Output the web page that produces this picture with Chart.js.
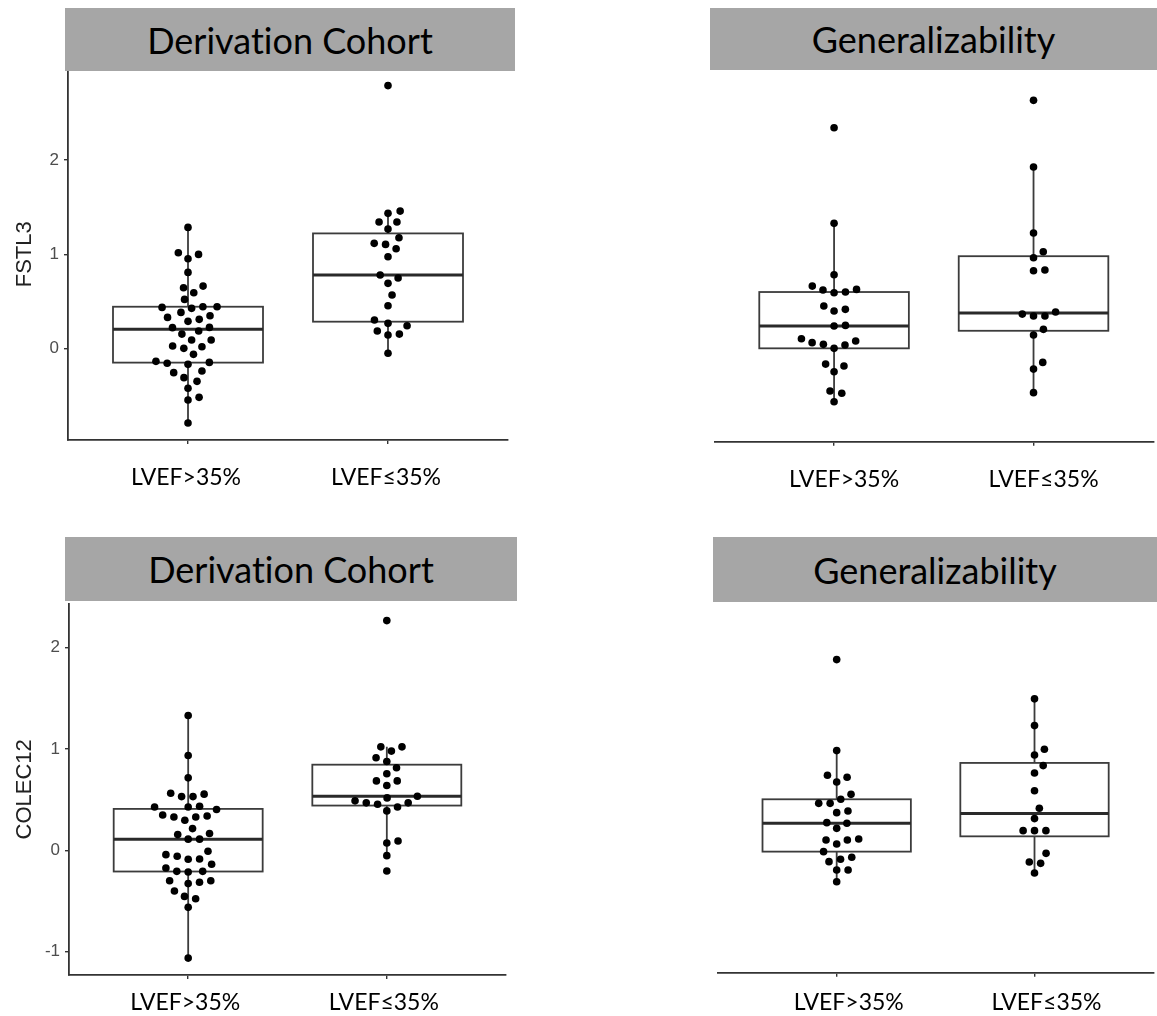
<!DOCTYPE html>
<html>
<head>
<meta charset="utf-8">
<title>FSTL3 and COLEC12 by LVEF group</title>
<script src="https://cdn.jsdelivr.net/npm/chart.js@4.4.1/dist/chart.umd.min.js"></script>
<style>
  html, body { margin: 0; padding: 0; background: #fff; }
  body { position: relative; width: 1157px; height: 1016px; overflow: hidden; }
  .panel { position: absolute; }
  .banner {
    position: absolute; z-index: 2; background: #a6a6a6; color: #000;
    font-family: Lato, "Open Sans", sans-serif; font-size: 36px;
    font-variant-ligatures: none; font-feature-settings: "liga" 0;
    display: flex; align-items: center; justify-content: center; white-space: nowrap;
  }
</style>
</head>
<body>
<div class="banner" style="left:65px;top:8px;width:450px;height:63px">Derivation Cohort</div>
<div class="banner" style="left:710px;top:8px;width:447px;height:62px">Generalizability</div>
<div class="banner" style="left:65px;top:537px;width:452px;height:64px">Derivation Cohort</div>
<div class="banner" style="left:713px;top:537px;width:444px;height:65px">Generalizability</div>

<script>
// Groups on the x axis
const groups = ['LVEF>35%', 'LVEF≤35%'];

// Y tick values
const fstl3Ticks = [0, 1, 2];
const colec12Ticks = [-1, 0, 1, 2];

// FSTL3 – derivation cohort
const fstl3DerivAbove = [1.286, 1.018, 1.0, 0.954, 0.809, 0.647, 0.664, 0.594, 0.523, 0.445,
  0.428, 0.438, 0.445, 0.385, 0.35, 0.332, 0.311, 0.29, 0.226, 0.187,
  0.223, 0.155, 0.092, 0.092, 0.028, 0.021, 0.004, -0.06, -0.134, -0.145,
  -0.166, -0.155, -0.254, -0.237, -0.307, -0.346, -0.42, -0.544, -0.516, -0.788];
const fstl3DerivBelow = [2.79, 1.459, 1.435, 1.343, 1.343, 1.268, 1.177, 1.117, 1.106, 1.06,
  0.975, 0.781, 0.749, 0.693, 0.569, 0.456, 0.304, 0.269, 0.244, 0.187,
  0.145, 0.155, -0.049];

// FSTL3 – generalizability cohort
const fstl3GenAbove = [2.343, 1.329, 0.784, 0.664, 0.622, 0.594, 0.601, 0.629, 0.452, 0.399,
  0.417, 0.240, 0.247, 0.106, 0.064, 0.046, 0.004, 0.039, 0.081, -0.163,
  -0.184, -0.244, -0.449, -0.473, -0.562];
const fstl3GenBelow = [2.633, 1.926, 1.226, 1.028, 0.965, 0.827, 0.834, 0.367, 0.346, 0.346,
  0.389, 0.205, 0.145, -0.145, -0.216, -0.466];

// COLEC12 – derivation cohort
const colec12DerivAbove = [1.33, 0.936, 0.715, 0.554, 0.530, 0.530, 0.563, 0.435, 0.428, 0.402,
  0.428, 0.349, 0.329, 0.329, 0.297, 0.339, 0.214, 0.155, 0.11, 0.11,
  0.165, -0.010, -0.043, -0.086, -0.089, -0.059, -0.138, -0.175, -0.208, -0.214,
  -0.208, -0.300, -0.316, -0.329, -0.300, -0.402, -0.455, -0.478, -0.563, -1.064];
const colec12DerivBelow = [2.267, 1.021, 1.021, 0.979, 0.913, 0.876, 0.814, 0.755, 0.685, 0.685,
  0.639, 0.517, 0.534, 0.488, 0.468, 0.455, 0.468, 0.428, 0.389, 0.072,
  0.092, -0.053, -0.204];

// COLEC12 – generalizability cohort
const colec12GenAbove = [1.881, 0.982, 0.738, 0.718, 0.672, 0.550, 0.461, 0.461, 0.501, 0.369,
  0.386, 0.264, 0.214, 0.27, 0.109, 0.099, 0.059, 0.099, -0.016, -0.092,
  -0.072, -0.115, -0.198, -0.198, -0.313];
const colec12GenBelow = [1.493, 1.229, 0.995, 0.939, 0.834, 0.761, 0.586, 0.412, 0.310, 0.191,
  0.191, 0.191, -0.033, -0.119, -0.132, -0.227];

// Panel layout (page pixels) and axis settings
const panels = [
  { left: 0,   top: 0,   width: 540, height: 520, area: { left: 68,  right: 508,    top: 68.7, bottom: 439.9 },
    yMin: -0.967, yMax: 2.969, yTicks: fstl3Ticks, yTitle: 'FSTL3', sets: [fstl3DerivAbove, fstl3DerivBelow],
    labelShift: -2, labelPad: 20 },
  { left: 700, top: 0,   width: 457, height: 520, area: { left: 14.4, right: 456.6, top: 70,  bottom: 441.7 },
    yMin: -0.986, yMax: 2.955, yTicks: null, yTitle: null, sets: [fstl3GenAbove, fstl3GenBelow],
    labelShift: 10, labelPad: 20 },
  { left: 0,   top: 530, width: 540, height: 486, area: { left: 69,  right: 506,    top: 73.7, bottom: 445 },
    yMin: -1.231, yMax: 2.434, yTicks: colec12Ticks, yTitle: 'COLEC12', sets: [colec12DerivAbove, colec12DerivBelow],
    labelShift: -3, labelPad: 10 },
  { left: 700, top: 530, width: 457, height: 486, area: { left: 18,  right: 453.4,  top: 73,   bottom: 442.7 },
    yMin: -1.212, yMax: 2.44, yTicks: null, yTitle: null, sets: [colec12GenAbove, colec12GenBelow],
    labelShift: 12, labelPad: 12 }
];

const INK = '#333333';
const BOX_INK = '#3c3c3c';
const BOX_WIDTH = 0.75;     // in category units
const SWARM_SPACING = 11.4; // px between dot centres in the swarm
const DOT_RADIUS = 3.8;

// type-7 quantile of a sorted array
function quantile(sorted, p) {
  const h = (sorted.length - 1) * p;
  const lo = Math.floor(h);
  const hi = Math.min(lo + 1, sorted.length - 1);
  return sorted[lo] + (h - lo) * (sorted[hi] - sorted[lo]);
}

function boxStats(values) {
  const s = values.slice().sort((a, b) => a - b);
  const q1 = quantile(s, 0.25), med = quantile(s, 0.5), q3 = quantile(s, 0.75);
  const iqr = q3 - q1;
  const inside = s.filter(v => v >= q1 - 1.5 * iqr && v <= q3 + 1.5 * iqr);
  return { q1, med, q3, lo: inside[0], hi: inside[inside.length - 1] };
}

// Swarm layout: points placed in ascending order, each at the smallest
// sideways offset that keeps it clear of the points already placed.
function beeswarm(values, toPx, d) {
  const order = values.map((_, i) => i).sort((a, b) => (values[a] - values[b]) || (a - b));
  const placed = [];
  const offsets = new Array(values.length).fill(0);
  for (const i of order) {
    const y = toPx(values[i]);
    const near = placed.filter(p => Math.abs(p.y - y) < d);
    let best = 0;
    if (near.length) {
      const cands = [0];
      near.forEach(p => cands.push(p.x + Math.sqrt(d * d - (p.y - y) ** 2)));
      near.forEach(p => cands.push(p.x - Math.sqrt(d * d - (p.y - y) ** 2)));
      let bestAbs = Infinity;
      for (const c of cands) {
        const clash = near.some(p => (p.x - c) ** 2 + (p.y - y) ** 2 < 0.999 * d * d);
        if (!clash && Math.abs(c) < bestAbs) { bestAbs = Math.abs(c); best = c; }
      }
    }
    placed.push({ x: best, y });
    offsets[i] = best;
  }
  return offsets;
}

// Box, median and whiskers under each group's dots
const boxPlot = {
  id: 'boxPlot',
  beforeDatasetsDraw(chart) {
    const { ctx } = chart;
    const xs = chart.scales.x, ys = chart.scales.y;
    chart.data.datasets.forEach((ds, g) => {
      const st = boxStats(ds.data.map(p => p.y));
      const cx = xs.getPixelForValue(g + 1);
      const x0 = xs.getPixelForValue(g + 1 - BOX_WIDTH / 2);
      const x1 = xs.getPixelForValue(g + 1 + BOX_WIDTH / 2);
      const yq1 = ys.getPixelForValue(st.q1), yq3 = ys.getPixelForValue(st.q3);
      const ymed = ys.getPixelForValue(st.med);
      ctx.save();
      ctx.strokeStyle = BOX_INK;
      ctx.lineWidth = 1.8;
      ctx.beginPath();
      ctx.moveTo(cx, yq3); ctx.lineTo(cx, ys.getPixelForValue(st.hi));
      ctx.moveTo(cx, yq1); ctx.lineTo(cx, ys.getPixelForValue(st.lo));
      ctx.stroke();
      ctx.fillStyle = '#ffffff';
      ctx.fillRect(x0, yq3, x1 - x0, yq1 - yq3);
      ctx.strokeRect(x0, yq3, x1 - x0, yq1 - yq3);
      ctx.strokeStyle = '#2a2a2a';
      ctx.lineWidth = 3;
      ctx.beginPath();
      ctx.moveTo(x0, ymed); ctx.lineTo(x1, ymed);
      ctx.stroke();
      ctx.restore();
    });
  }
};

panels.forEach(p => {
  const wrap = document.createElement('div');
  wrap.className = 'panel';
  wrap.style.left = p.left + 'px';
  wrap.style.top = p.top + 'px';
  const canvas = document.createElement('canvas');
  canvas.width = p.width;
  canvas.height = p.height;
  wrap.appendChild(canvas);
  document.body.appendChild(wrap);

  const hasY = !!p.yTicks;
  const yScale = hasY ? {
    min: p.yMin, max: p.yMax,
    afterBuildTicks: s => { s.ticks = p.yTicks.map(v => ({ value: v })); },
    afterFit: s => { s.width = p.area.left; },
    ticks: { color: '#4d4d4d', font: { family: '"Liberation Sans", Arial, sans-serif', size: 17 }, padding: 5 },
    grid: { drawOnChartArea: false, tickLength: 4, color: INK, lineWidth: 1.4 },
    border: { color: INK, width: 1.8 },
    title: { display: true, text: p.yTitle, color: '#222',
      font: { family: '"Liberation Sans", Arial, sans-serif', size: 22 }, padding: { top: 12, bottom: 0 } }
  } : { display: false, min: p.yMin, max: p.yMax };

  const chart = new Chart(canvas, {
    type: 'scatter',
    data: {
      datasets: p.sets.map((vals, g) => ({
        label: groups[g],
        data: vals.map(v => ({ x: g + 1, y: v })),
        pointRadius: DOT_RADIUS, pointHoverRadius: DOT_RADIUS,
        backgroundColor: '#000', borderWidth: 0
      }))
    },
    options: {
      responsive: false, animation: false, devicePixelRatio: 1, events: [],
      layout: { padding: { left: hasY ? 0 : p.area.left, right: p.width - p.area.right, top: p.area.top, bottom: 0 } },
      plugins: { legend: { display: false }, tooltip: { enabled: false } },
      scales: {
        x: {
          type: 'linear', min: 0.4, max: 2.6,
          afterBuildTicks: s => { s.ticks = groups.map((_, i) => ({ value: i + 1 })); },
          afterFit: s => { s.height = p.height - p.area.bottom; },
          ticks: { callback: (v, i) => groups[i], color: '#000', autoSkip: false, maxRotation: 0,
            font: { family: 'Lato, "Open Sans", sans-serif', size: 23 }, padding: p.labelPad, labelOffset: p.labelShift },
          grid: { drawOnChartArea: false, tickLength: 4, color: INK, lineWidth: 1.4 },
          border: { color: INK, width: 1.8 }
        },
        y: yScale
      }
    },
    plugins: [boxPlot]
  });

  // spread each group's dots sideways as a swarm
  const xs = chart.scales.x, ys = chart.scales.y;
  const pxPerUnit = xs.getPixelForValue(2) - xs.getPixelForValue(1);
  chart.data.datasets.forEach((ds, g) => {
    const vals = p.sets[g];
    const offs = beeswarm(vals, v => ys.getPixelForValue(v), SWARM_SPACING);
    ds.data = vals.map((v, k) => ({ x: g + 1 + offs[k] / pxPerUnit, y: v }));
  });
  chart.update();
});
</script>
</body>
</html>
